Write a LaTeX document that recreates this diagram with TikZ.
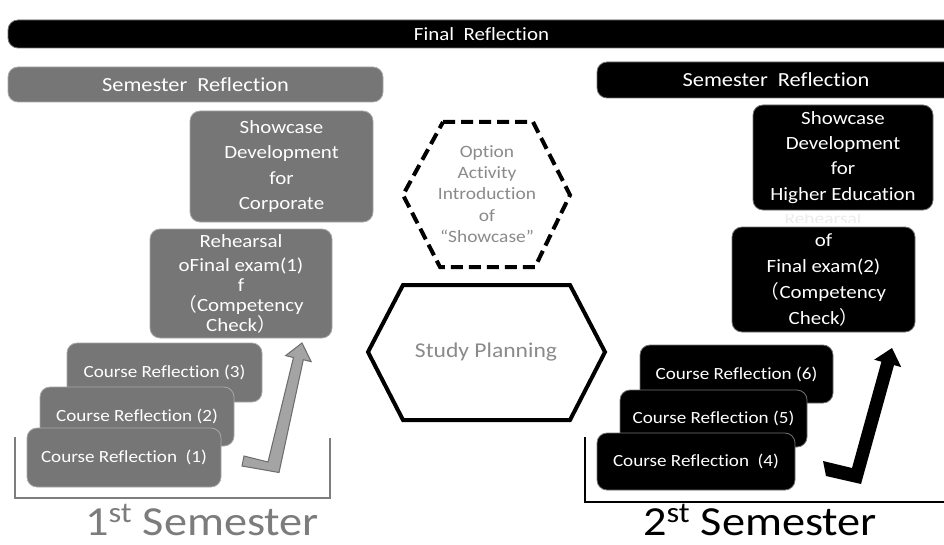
\documentclass[tikz,border=0pt]{standalone}
\usepackage{fontspec}
\setmainfont{Carlito}[FakeStretch=1.12,Ligatures=NoCommon]
\newfontfamily\cjk{Noto Sans CJK JP}
\usetikzlibrary{arrows.meta}
\definecolor{boxgray}{HTML}{767676}
\definecolor{edgegray}{HTML}{A8A8A8}
\definecolor{txtgray}{HTML}{8A8A8A}
\definecolor{arrgray}{HTML}{A4A4A4}
\definecolor{arredge}{HTML}{6E6E6E}
\definecolor{faint}{HTML}{EBEBEB}
\tikzset{
  sz/.style 2 args={minimum width=#1*0.75pt,minimum height=#2*0.75pt},
  gbox/.style={fill=boxgray,draw=edgegray,line width=0.6pt,rounded corners=7.5pt,text=white,inner sep=0pt,align=center},
  bbox/.style={fill=black,draw=black!55,line width=0.6pt,rounded corners=7.5pt,text=white,inner sep=0pt,align=center},
  bigtxt/.style={font=\fontsize{14}{18.9}\selectfont},
  crtxt/.style={font=\fontsize{12.8}{15}\selectfont},
  hexline/.style={line width=3pt,line join=miter},
  bracket/.style={line width=2.2pt},
  semtxt/.style={anchor=base,inner sep=0pt,font=\fontsize{31}{34}\selectfont}
}
\begin{document}
\begin{tikzpicture}[x=0.75pt,y=-0.75pt]
\useasboundingbox (0,0) rectangle (944,545);

% top bars
\node[bbox,sz={947}{28},font=\fontsize{14}{16}\selectfont] (final) at (481.5,34) {Final~~Reflection};
\node[gbox,sz={375}{35},font=\fontsize{15}{17}\selectfont] (semL) at (195.5,84.5) {Semester~~Reflection};
\node[bbox,sz={358}{36},font=\fontsize{15}{17}\selectfont] (semR) at (776,80) {Semester~~Reflection};

% left column
\node[gbox,sz={183}{111},bigtxt] (showL) at (281.5,166.5) {Showcase\\Development\\for\\Corporate};
\node[gbox,sz={182}{109},font=\fontsize{14}{15}\selectfont] (rehL) at (241,283.5)
  {Rehearsal\\[3pt]oFinal exam(1)\\f\\{\cjk （}Competency\\Check{\cjk ）}};

% right column
\begin{scope}
\clip (700,214) rectangle (950,222);
\node[text=faint,font=\fontsize{13}{15}\selectfont] (faintR) at (823,219) {Rehearsal};
\end{scope}
\node[bbox,sz={180}{105},bigtxt] (showR) at (843,157.5) {Showcase\\Development\\for\\Higher Education};
\node[bbox,sz={183}{105},font=\fontsize{14}{19.5}\selectfont] (rehR) at (823.5,279.5)
  {of\\Final exam(2)\\{\cjk （}Competency\\Check{\cjk ）}};

% hexagons
\draw[hexline,dashed,dash pattern=on 9pt off 4.5pt] (443,122) -- (533,122) -- (570,195) -- (535,267) -- (440,267) -- (403,195) -- cycle;
\node[text=txtgray,align=center,font=\fontsize{13}{16}\selectfont] (opt) at (487,194)
  {Option\\Activity\\Introduction\\of\\“Showcase”};
\draw[hexline] (403,285) -- (570,285) -- (605,352) -- (570,420) -- (403,420) -- (368,352) -- cycle;
\node[text=txtgray,font=\fontsize{15.8}{18}\selectfont] (plan) at (486,352) {Study Planning};

% course reflections left
\node[gbox,sz={195}{59},crtxt] (cr3) at (164.5,372.5) {Course Reflection (3)};
\node[gbox,sz={194}{59},crtxt] (cr2) at (137,416.5) {Course Reflection (2)};
\node[gbox,sz={194}{59},crtxt] (cr1) at (124,457.5) {Course Reflection~~(1)};

% course reflections right
\node[bbox,sz={193}{58},crtxt] (cr6) at (736.5,374) {Course Reflection (6)};
\node[bbox,sz={187}{57},crtxt] (cr5) at (713.5,418.5) {Course Reflection (5)};
\node[bbox,sz={198}{57},crtxt] (cr4) at (696,461.5) {Course Reflection~~(4)};

% brackets
\draw[bracket,draw=arredge!90] (15,437) -- (15,498) -- (330,498) -- (330,438);
\draw[bracket] (585,437) -- (585,502) -- (960,502);

% arrows
\filldraw[fill=arrgray,draw=arredge,line width=0.8pt,line join=miter]
  (244,456) -- (268,462) -- (293.5,357.5) -- (285.7,355.6) -- (302,343) -- (311.1,361.6) -- (303.3,359.7) -- (279,472.5) -- (242,466) -- cycle;
\fill[black]
  (823,461) -- (852,468) -- (881.4,361.7) -- (874.2,359.7) -- (892,348) -- (901.2,367.1) -- (894,365.1) -- (861,484) -- (826,476) -- cycle;

% semester labels
\node[semtxt,text=txtgray!90!black] (sem1) at (202,535) {1\textsuperscript{st} Semester};
\node[semtxt,text=black] (sem2) at (760,535) {2\textsuperscript{st} Semester};
\end{tikzpicture}
\end{document}
